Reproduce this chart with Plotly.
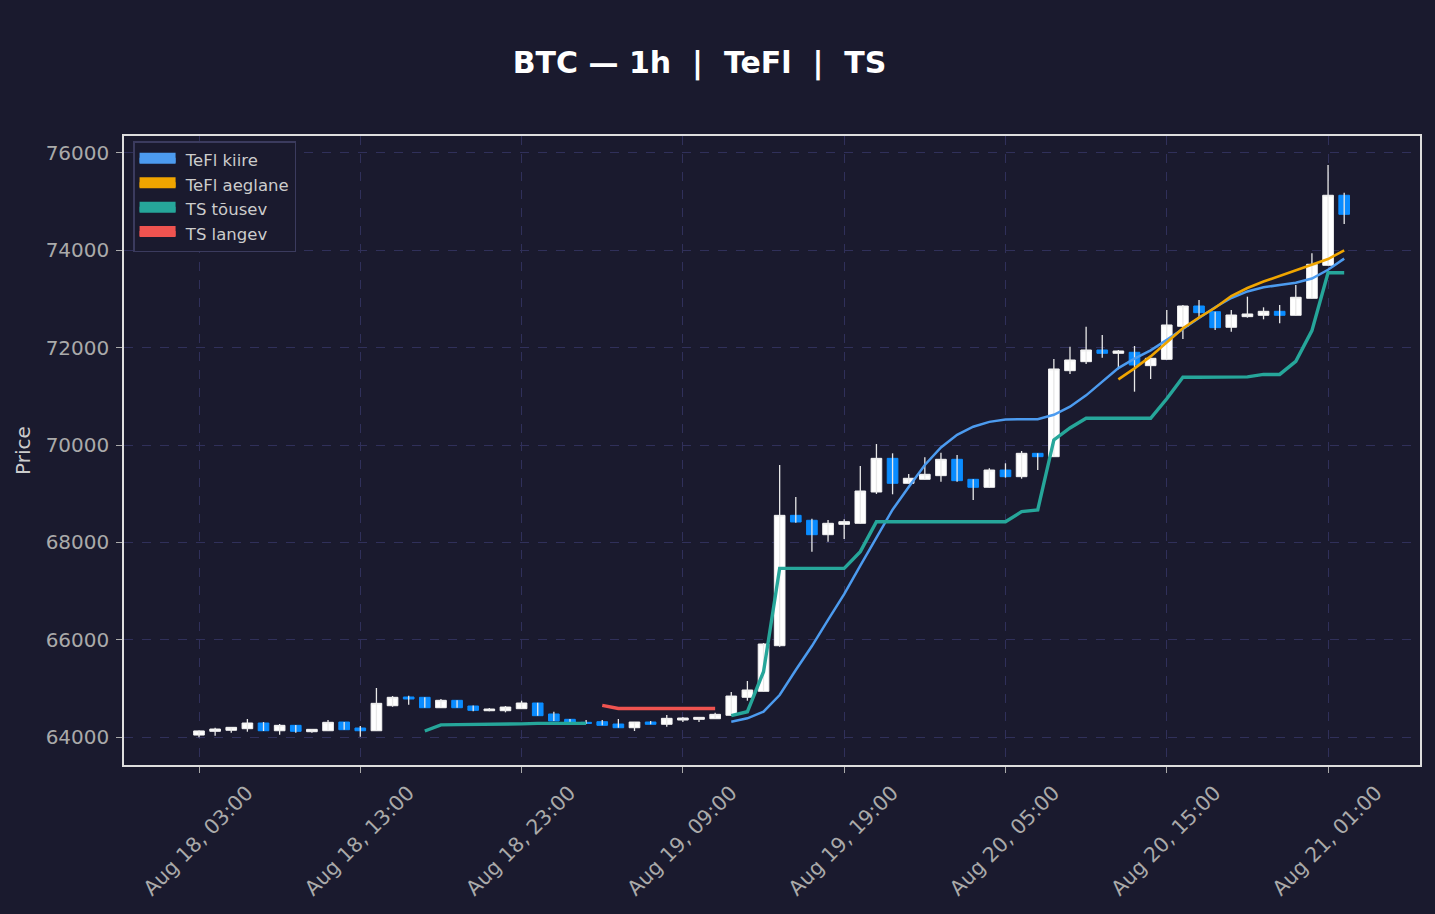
import pandas as pd
import plotly.graph_objects as go

# hourly candles, Aug 18 03:00 .. Aug 21 02:00
opens = [64040, 64117, 64138, 64171, 64288, 64129, 64240, 64109, 64129, 64308,
         64185, 64129, 64643, 64822, 64816, 64602, 64754, 64637, 64540, 64540,
         64582, 64699, 64473, 64364, 64302, 64315, 64267, 64191, 64308, 64261,
         64349, 64363, 64376, 64446, 64816, 64939, 65876, 68555, 68453, 68157,
         68370, 68391, 69034, 69726, 69213, 69295, 69370, 69706, 69295, 69131,
         69486, 69349, 69829, 69760, 71527, 71712, 71952, 71884, 71905, 71630,
         71760, 72439, 72856, 72739, 72419, 72637, 72665, 72747, 72665, 73014,
         73692, 75131]
highs = [64135, 64190, 64205, 64370, 64308, 64267, 64245, 64164, 64349, 64310,
         64226, 65007, 64842, 64849, 64816, 64781, 64754, 64650, 64596, 64637,
         64746, 64705, 64520, 64370, 64350, 64349, 64370, 64308, 64329, 64452,
         64411, 64404, 64499, 64925, 65151, 65932, 69589, 68932, 68486, 68459,
         68473, 69569, 70020, 69829, 69404, 69747, 69842, 69795, 69295, 69521,
         69624, 69877, 69829, 71767, 72020, 72431, 72260, 71952, 72034, 71781,
         72774, 72877, 72979, 72739, 72774, 73048, 72829, 72877, 73288, 73939,
         75753, 75184]
lows = [63994, 64027, 64088, 64109, 64123, 64047, 64088, 64088, 64129, 64150,
        64006, 64129, 64622, 64664, 64602, 64602, 64602, 64527, 64527, 64507,
        64582, 64438, 64329, 64302, 64270, 64240, 64191, 64123, 64261, 64212,
        64308, 64308, 64376, 64446, 64746, 64939, 65855, 68404, 67808, 68013,
        68068, 68391, 68994, 68987, 69213, 69295, 69246, 69246, 68870, 69131,
        69328, 69308, 69486, 69760, 71459, 71664, 71794, 71555, 71096, 71356,
        71760, 72178, 72603, 72363, 72329, 72616, 72582, 72500, 72665, 73014,
        73692, 74541]
closes = [64125, 64164, 64199, 64288, 64129, 64240, 64117, 64158, 64302, 64150,
          64129, 64692, 64816, 64781, 64602, 64754, 64602, 64548, 64575, 64616,
          64699, 64438, 64329, 64302, 64280, 64240, 64191, 64308, 64261, 64384,
          64390, 64404, 64466, 64842, 64966, 65911, 68555, 68418, 68157, 68391,
          68425, 69055, 69726, 69213, 69316, 69398, 69706, 69267, 69131, 69486,
          69349, 69829, 69760, 71562, 71747, 71952, 71884, 71932, 71644, 71781,
          72466, 72856, 72719, 72411, 72671, 72692, 72747, 72665, 73035, 73713,
          75131, 74740]

tefl_kiire = [None] * 33 + [
    64315, 64384, 64520, 64863, 65377, 65869, 66406, 66934, 67520, 68110,
    68670, 69137, 69590, 69950, 70210, 70376, 70475, 70525, 70530, 70530,
    70620, 70787, 71020, 71300, 71580, 71775, 71945, 72160, 72390, 72610,
    72830, 73020, 73155, 73240, 73288, 73333, 73420, 73600, 73830]
tefl_aeglane = [None] * 57 + [
    71350, 71575, 71820, 72120, 72400, 72620, 72820, 73060, 73225, 73358,
    73473, 73580, 73690, 73820, 74000]
ts_tousev = [None] * 14 + [
    64123, 64250, 64255, 64255, 64255, 64255, 64270, 64280, 64280, 64280,
    64280] + [None] * 8 + [
    64438, 64520, 65342, 67466, 67466, 67466, 67466, 67466, 67808, 68424,
    68424, 68424, 68424, 68424, 68424, 68424, 68424, 68424, 68630, 68665,
    70103, 70350, 70549, 70549, 70549, 70549, 70549, 70951, 71391, 71391,
    71391, 71391, 71400, 71450, 71450, 71720, 72350, 73540, 73540]
ts_langev = [None] * 25 + [64650, 64585, 64585, 64585, 64585, 64585, 64585, 64585] + [None] * 39

times = pd.date_range("2024-08-18 03:00", periods=len(opens), freq="h")

BG = "#1a1a2e"
GRID = "#30305a"
UP = "#ffffff"
DOWN = "#0a8cff"
C_KIIRE = "#4c9bef"
C_AEG = "#f0a500"
C_TOUS = "#26a69a"
C_LANG = "#ef5350"
FONT = "DejaVu Sans"

# wicks drawn separately so they stay white for down candles too
wx, wy = [], []
for t, lo, hi in zip(times, lows, highs):
    wx += [t, t, None]
    wy += [lo, hi, None]

body_hi = [max(o, c) for o, c in zip(opens, closes)]
body_lo = [min(o, c) for o, c in zip(opens, closes)]

fig = go.Figure()
fig.add_trace(go.Scatter(x=wx, y=wy, mode="lines", line=dict(color="#e8e8e8", width=1.3),
                         showlegend=False, hoverinfo="skip"))
fig.add_trace(go.Candlestick(x=times, open=opens, high=body_hi, low=body_lo, close=closes,
                             increasing=dict(line=dict(color="#f2f2f2", width=1), fillcolor=UP),
                             decreasing=dict(line=dict(color=DOWN, width=1), fillcolor=DOWN),
                             whiskerwidth=0, showlegend=False))

fig.add_trace(go.Scatter(x=times, y=tefl_kiire, mode="lines", line=dict(color=C_KIIRE, width=2.5),
                         showlegend=False))
fig.add_trace(go.Scatter(x=times, y=tefl_aeglane, mode="lines", line=dict(color=C_AEG, width=2.6),
                         showlegend=False))
fig.add_trace(go.Scatter(x=times, y=ts_tousev, mode="lines", line=dict(color=C_TOUS, width=3.4),
                         showlegend=False))
fig.add_trace(go.Scatter(x=times, y=ts_langev, mode="lines", line=dict(color=C_LANG, width=3.4),
                         showlegend=False))

# legend swatches (fill + thick line gives a filled box)
for name, col in [("TeFl kiire", C_KIIRE), ("TeFl aeglane", C_AEG),
                  ("TS tõusev", C_TOUS), ("TS langev", C_LANG)]:
    fig.add_trace(go.Scatter(x=[None], y=[None], mode="lines", name=" " + name,
                             fill="toself", fillcolor=col,
                             line=dict(color=col, width=10)))

x0 = times[0] - pd.Timedelta(hours=4.65)
x1 = times[0] + pd.Timedelta(hours=75.7)

fig.update_layout(
    width=1435, height=914,
    paper_bgcolor=BG, plot_bgcolor=BG,
    font=dict(family=FONT, color="#aaaaaa", size=19),
    margin=dict(l=124, r=15, t=136, b=149),
    boxgap=0.34, boxgroupgap=0,
    title=dict(text="BTC — 1h  |  TeFl  |  TS", x=0.4875, xref="container", xanchor="center",
               y=1 - 62 / 914, yref="container", yanchor="middle",
               font=dict(family=FONT, size=30, color="#ffffff", weight="bold")),
    legend=dict(x=0.007, y=0.992, xanchor="left", yanchor="top",
                bgcolor=BG, bordercolor="#3b3b5e", borderwidth=1.5,
                font=dict(family=FONT, size=16.5, color="#cccccc"),
                itemwidth=36, tracegroupgap=0),
    showlegend=True,
    hovermode=False,
)
fig.update_xaxes(
    type="date", range=[x0, x1], rangeslider_visible=False, automargin=False,
    tick0=times[0], dtick=10 * 3600 * 1000, tickformat="%b %d, %H:%M", tickangle=-45,
    ticklabelshift=48,
    showgrid=True, gridcolor=GRID, griddash="dash", gridwidth=1,
    showline=True, linecolor="#dddddd", linewidth=1.5, mirror=True,
    ticks="outside", ticklen=6, tickcolor="#aaaaaa",
    tickfont=dict(size=20.5, color="#aaaaaa"), zeroline=False,
)
fig.update_yaxes(
    range=[63425, 76349], dtick=2000, tickformat="d", automargin=False,
    ticklabelstandoff=3,
    showgrid=True, gridcolor=GRID, griddash="dash", gridwidth=1,
    showline=True, linecolor="#dddddd", linewidth=1.5, mirror=True,
    ticks="outside", ticklen=6, tickcolor="#aaaaaa",
    tickfont=dict(size=20, color="#aaaaaa"), zeroline=False,
    title=dict(text="Price", font=dict(size=20, color="#cccccc"), standoff=10),
)

fig.write_html("out.html", config={"displayModeBar": False},
               post_script="document.body.style.margin='0';"
                           "document.body.style.background='#1a1a2e';")
